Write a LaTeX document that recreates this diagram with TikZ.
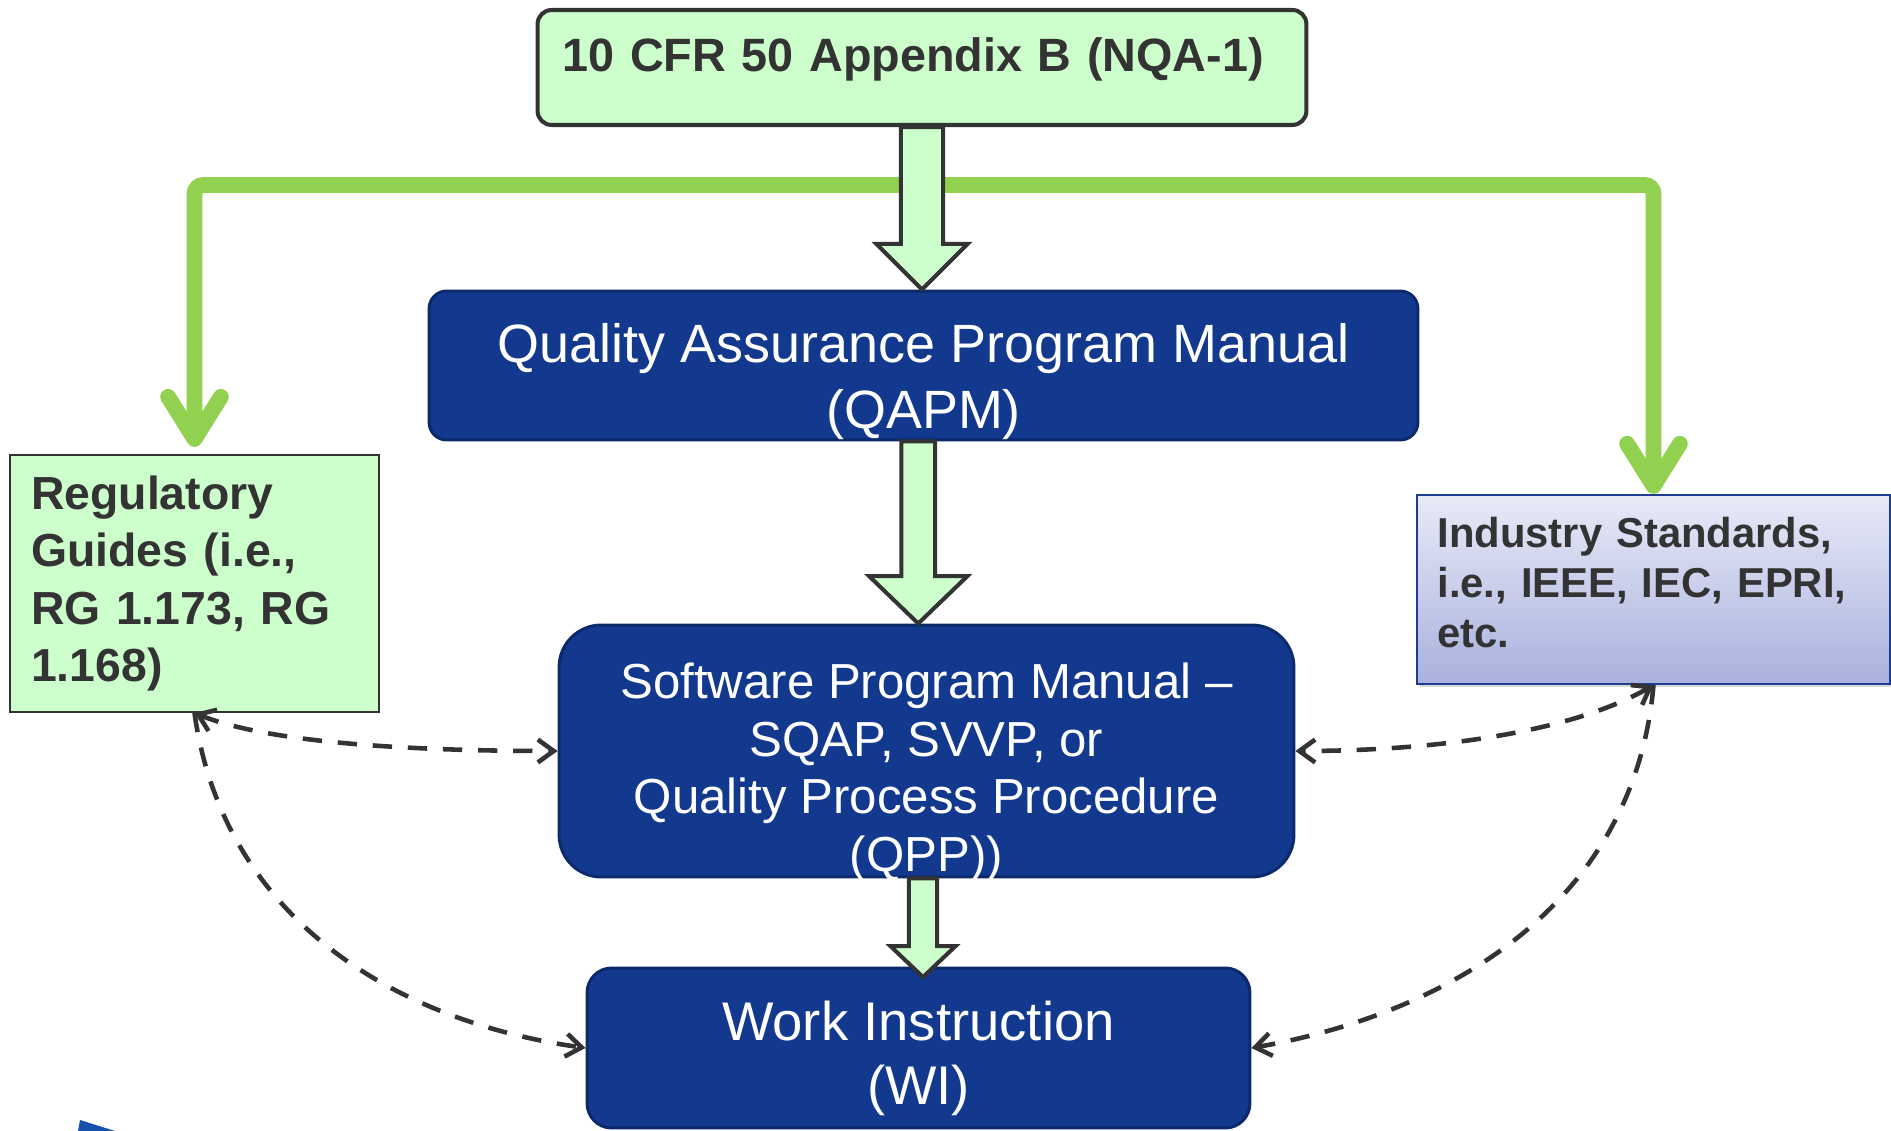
\documentclass[tikz,border=0pt]{standalone}
\usepackage{fontspec}
\setmainfont{Liberation Sans}
\usetikzlibrary{calc, arrows.meta, shadows, positioning}
\definecolor{qalight}{HTML}{CCFFCC}
\definecolor{qagreen}{HTML}{92D050}
\definecolor{qablue}{HTML}{12398E}
\definecolor{qablueedge}{HTML}{0B2A6C}
\definecolor{qagray}{HTML}{333333}
\definecolor{stdtop}{HTML}{E8EAF7}
\definecolor{stdbottom}{HTML}{A9B1DE}
\definecolor{stdedge}{HTML}{1F3D8F}
\definecolor{logoblue}{HTML}{1552AE}

\begin{document}
\begin{tikzpicture}[x=0.02cm, y=0.02cm,
    greenbox/.style={draw=qagray, fill=qalight, text=qagray},
    bluebox/.style={draw=qablueedge, fill=qablue, line width=1.7pt},
    bluetext/.style={text=white, align=center, inner sep=0pt},
    fatarrow/.style={draw=qagray, fill=qalight, line width=2.3pt, line join=miter},
    greenline/.style={draw=qagreen, line width=9pt, rounded corners=5pt, -{Straight Barb[length=24pt, width=30pt, round]}},
    refline/.style={draw=qagray, line width=2.6pt, dash pattern=on 11pt off 9pt, >={Straight Barb[length=9pt, width=13pt]}}]
        \useasboundingbox (0,0) rectangle (1891,-1131);

        % boxes
        \node (cfr) [greenbox, rounded corners=8pt, line width=2.3pt, minimum width=15.38cm, minimum height=2.3cm, text width=409pt, inner xsep=14pt, align=left, text height=20pt, text depth=15pt, font=\bfseries\fontsize{26.6}{32}\selectfont] at (922,-67.5) {\mbox{10 CFR 50 Appendix B (NQA-1)}};

        \node (qapm) [bluebox, rounded corners=10pt, minimum width=19.78cm, minimum height=2.98cm] at (923.5,-365.5) {};
        \node (qapmtext) [bluetext, font=\fontsize{30.7}{37.5}\selectfont] at ([yshift=-9pt]qapm.center) {Quality Assurance Program Manual\\(QAPM)};

        \node (spm) [bluebox, rounded corners=24pt, minimum width=14.7cm, minimum height=5.04cm] at (926.5,-751) {};
        \node (spmtext) [bluetext, font=\fontsize{28}{32.8}\selectfont] at ([yshift=-12pt]spm.center) {Software Program Manual –\\SQAP, SVVP, or\\Quality Process Procedure\\(QPP))};

        \node (wi) [bluebox, rounded corners=14pt, minimum width=13.26cm, minimum height=3.2cm] at (918.5,-1048) {};
        \node (witext) [bluetext, font=\fontsize{31}{36.1}\selectfont] at ([yshift=-6pt]wi.center) {Work Instruction\\(WI)};

        \node (reg) [greenbox, line width=1.2pt, minimum width=7.38cm, minimum height=5.14cm, text width=186pt, inner xsep=12pt, align=left, font=\bfseries\fontsize{26.4}{32.6}\selectfont] at (194.5,-583.5) {Regulatory\\Guides (i.e.,\\RG 1.173, RG\\1.168)};

        \node (ind) [draw=stdedge, top color=stdtop, bottom color=stdbottom, line width=1.3pt, text=qagray, drop shadow={shadow xshift=1.5pt, shadow yshift=-1.5pt, opacity=0.3}, minimum width=9.46cm, minimum height=3.78cm, text width=246pt, inner xsep=11.4pt, align=left, font=\bfseries\fontsize{23.8}{28.5}\selectfont] at (1653.5,-589.5) {Industry Standards,\\i.e., IEEE, IEC, EPRI,\\etc.\rule[-8pt]{0pt}{0pt}};

        % green branches
        \coordinate (split) at (922,-185);
        \draw [greenline] (split) -| ([yshift=4pt]reg.north);
        \draw [greenline] (split) -| (ind.north);

        % block arrows
        \draw [fatarrow] let \p1=(cfr.south), \p2=(qapm.north) in
            (\x1-12pt,\y1) -- (\x1-12pt,\y2+26pt) -- (\x1-26pt,\y2+26pt) -- (\x1,\y2)
            -- (\x1+26pt,\y2+26pt) -- (\x1+12pt,\y2+26pt) -- (\x1+12pt,\y1) -- cycle;
        \draw [fatarrow] let \p1=([xshift=-3pt]qapm.south), \p2=(spm.north) in
            (\x1-9.6pt,\y1) -- (\x1-9.6pt,\y2+27pt) -- (\x1-28pt,\y2+27pt) -- (\x1,\y2)
            -- (\x1+28pt,\y2+27pt) -- (\x1+9.6pt,\y2+27pt) -- (\x1+9.6pt,\y1) -- cycle;
        \draw [fatarrow] let \p1=([xshift=-2pt]spm.south), \p2=([yshift=-6pt]wi.north) in
            (\x1-8pt,\y1) -- (\x1-8pt,\y2+17.6pt) -- (\x1-18.5pt,\y2+17.6pt) -- (\x1,\y2)
            -- (\x1+18.5pt,\y2+17.6pt) -- (\x1+8pt,\y2+17.6pt) -- (\x1+8pt,\y1) -- cycle;

        % dashed references
        \draw [refline, <->] (reg.south) to[out=-22, in=180, out distance=45pt, in distance=85pt] (spm.west);
        \draw [refline, ->] (reg.south) to[out=-82, in=172] (wi.west);
        \draw [refline, <->] (ind.south) to[out=210, in=0, out distance=51pt, in distance=85pt] (spm.east);
        \draw [refline, ->] (ind.south) to[out=265, in=10] (wi.east);

        % logo corner
        \fill [logoblue] (80,-1120) -- (115,-1131) -- (78,-1131) -- cycle;
    \end{tikzpicture}
\end{document}
